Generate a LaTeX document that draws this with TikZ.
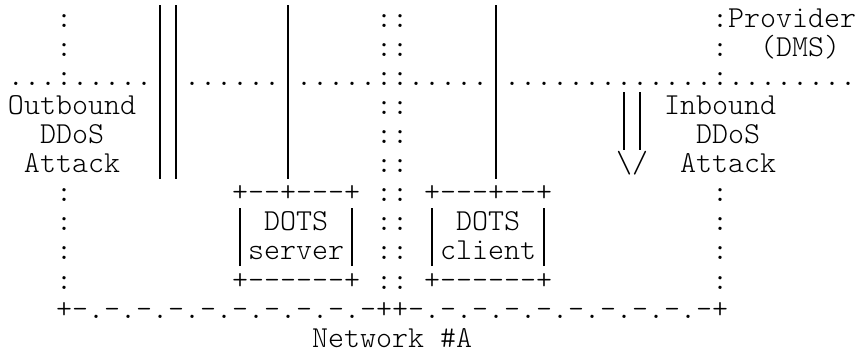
\documentclass[tikz,border=0pt]{standalone}
\usepackage{tikz}

\newcommand{\asciifont}{\fontsize{30.48}{29}\ttfamily\fontseries{l}\selectfont}
% full-height bar, one character cell wide
\newcommand{\pipe}{\makebox[16pt]{\rule[-6pt]{1.1pt}{29pt}}}

\begin{document}
\begin{tikzpicture}[x=16pt, y=-29pt,
    ch/.style={anchor=base west, inner sep=0pt, outer sep=0pt, font=\asciifont}
  ]
  \useasboundingbox (-0.5,0.0345) rectangle (53,12.379);

  % provider border
  \node[ch] (border1) at (0,3) {...:.....};
  \node[ch] (border2) at (11,3) {......};
  \node[ch] (border3) at (18,3) {.....::.....};
  \node[ch] (border4) at (31,3) {.............:........};
  \node[ch] (provider) at (45,1) {Provider};
  \node[ch] (dms) at (47,2) {(DMS)};

  % vertical runs
  \foreach \y in {1,...,6} {
    \node[ch] (outpipe\y) at (9,\y) {\pipe\pipe};
    \node[ch] (srvwire\y) at (17,\y) {\pipe};
    \node[ch] (cltwire\y) at (30,\y) {\pipe};
  }
  \foreach \y in {1,2,4,5,6,7,8,9,10}
    \node[ch] (link\y) at (23,\y) {::};
  \foreach \y in {1,2,7,8,9,10} {
    \node[ch] (lside\y) at (3,\y) {:};
    \node[ch] (rside\y) at (44,\y) {:};
  }

  % attacks
  \node[ch] (outbound) at (0,4) {Outbound};
  \node[ch] (outddos) at (2,5) {DDoS};
  \node[ch] (outattack) at (1,6) {Attack};
  \node[ch] (inpipe4) at (38,4) {\pipe\pipe};
  \node[ch] (inpipe5) at (38,5) {\pipe\pipe};
  \node[ch] (inhead) at (38,6) {\textbackslash/};
  \node[ch] (inbound) at (41,4) {Inbound};
  \node[ch] (inddos) at (43,5) {DDoS};
  \node[ch] (inattack) at (42,6) {Attack};

  % DOTS server and client
  \node[ch] (srvtop) at (14,7) {+--+---+};
  \node[ch] (srvdots) at (14,8) {\pipe\ DOTS\ \pipe};
  \node[ch] (srvname) at (14,9) {\pipe server\pipe};
  \node[ch] (srvbot) at (14,10) {+------+};
  \node[ch] (clttop) at (26,7) {+---+--+};
  \node[ch] (cltdots) at (26,8) {\pipe\ DOTS\ \pipe};
  \node[ch] (cltname) at (26,9) {\pipe client\pipe};
  \node[ch] (cltbot) at (26,10) {+------+};

  % network
  \node[ch] (net) at (3,11) {+-.-.-.-.-.-.-.-.-.-++-.-.-.-.-.-.-.-.-.-+};
  \node[ch] (netname) at (19,12) {Network \#A};
\end{tikzpicture}
\end{document}
